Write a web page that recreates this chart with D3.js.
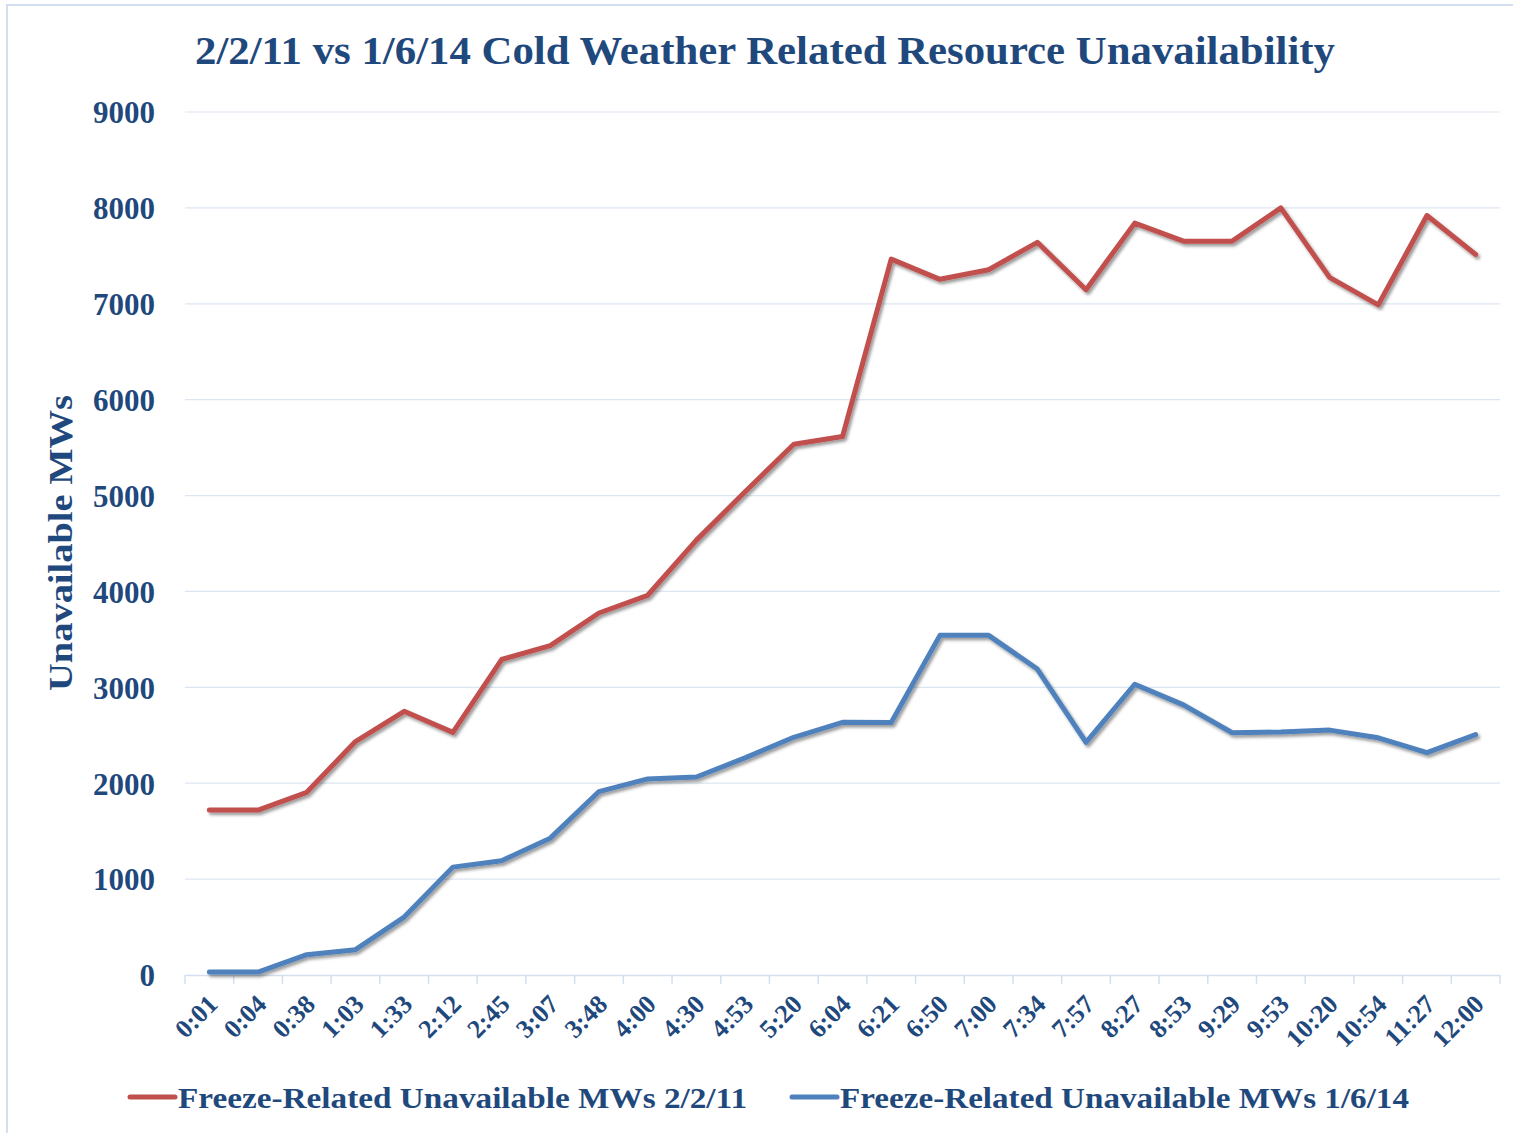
<!DOCTYPE html>
<html>
<head>
<meta charset="utf-8">
<script src="https://cdn.jsdelivr.net/npm/d3@7"></script>
<style>
  html, body { margin: 0; padding: 0; background: #fff; }
  svg { display: block; }
  text { font-family: "Liberation Serif", "Times New Roman", serif; font-weight: bold; fill: #1F497D; }
</style>
</head>
<body>
<svg id="chart" width="1513" height="1133"></svg>
<script>
// categories (time of day)
const times = ["0:01","0:04","0:38","1:03","1:33","2:12","2:45","3:07","3:48","4:00",
  "4:30","4:53","5:20","6:04","6:21","6:50","7:00","7:34","7:57","8:27",
  "8:53","9:29","9:53","10:20","10:54","11:27","12:00"];

// Freeze-Related Unavailable MWs 2/2/11
const mw2011 = [1720,1720,1905,2435,2750,2530,3290,3435,3775,3960,
  4535,5040,5535,5615,7466,7255,7355,7641,7147,7841,
  7653,7653,8000,7275,6988,7920,7514];

// Freeze-Related Unavailable MWs 1/6/14
const mw2014 = [30,30,212,264,604,1125,1191,1427,1913,2045,
  2065,2264,2479,2635,2633,3542,3542,3191,2426,3032,
  2817,2526,2534,2554,2474,2319,2506];

const yTicks = [0,1000,2000,3000,4000,5000,6000,7000,8000,9000];

const series = [
  { name: "Freeze-Related Unavailable MWs 2/2/11", values: mw2011, color: "#C0504D" },
  { name: "Freeze-Related Unavailable MWs 1/6/14", values: mw2014, color: "#4F81BD" }
];

const svg = d3.select("#chart");
const margin = { top: 112, right: 13, bottom: 158, left: 185 };
const W = 1513 - margin.left - margin.right;
const H = 1133 - margin.top - margin.bottom;

// faint chart frame (top + left edge)
svg.append("path")
  .attr("d", "M7,1133 V5 H1513")
  .attr("fill", "none").attr("stroke", "#D3DFEF").attr("stroke-width", 2);

// drop shadow for the lines
const defs = svg.append("defs");
const f = defs.append("filter").attr("id", "shadow")
  .attr("x", "-5%").attr("y", "-5%").attr("width", "110%").attr("height", "110%");
f.append("feDropShadow").attr("dx", 2).attr("dy", 2.5).attr("stdDeviation", 1.8)
  .attr("flood-color", "#000").attr("flood-opacity", 0.4);

const G = svg.append("g").attr("transform", `translate(${margin.left},${margin.top})`);

const x = d3.scaleBand().domain(times).range([0, W]);
const y = d3.scaleLinear().domain([0, 9000]).range([H, 0]);

// title
svg.append("text")
  .attr("x", 765).attr("y", 64)
  .attr("text-anchor", "middle")
  .attr("font-size", 40)
  .attr("textLength", 1140).attr("lengthAdjust", "spacingAndGlyphs")
  .text("2/2/11 vs 1/6/14 Cold Weather Related Resource Unavailability");

// gridlines
G.append("g").selectAll("line")
  .data(yTicks.filter(d => d > 0))
  .join("line")
  .attr("x1", 0).attr("x2", W)
  .attr("y1", d => y(d)).attr("y2", d => y(d))
  .attr("stroke", "#DCE6F2").attr("stroke-width", 1.2);

// y axis labels
const yAxis = G.append("g")
  .call(d3.axisLeft(y).tickValues(yTicks).tickFormat(d3.format("d")).tickSize(0).tickPadding(30));
yAxis.select(".domain").remove();
yAxis.selectAll("text")
  .attr("font-size", 31)
  .attr("dy", "0.35em")
  .attr("fill", "#1F497D");

// x axis
const xAxis = G.append("g").attr("transform", `translate(0,${H})`)
  .call(d3.axisBottom(x).tickSize(0).tickFormat(""));
xAxis.select(".domain").attr("stroke", "#D3DFEF").attr("stroke-width", 1.5);
xAxis.selectAll(".tick").remove();

// tick marks at category boundaries
G.append("g").selectAll("line")
  .data(times.concat(["__end"]))
  .join("line")
  .attr("x1", (d, i) => i * x.step()).attr("x2", (d, i) => i * x.step())
  .attr("y1", H).attr("y2", H + 9)
  .attr("stroke", "#D3DFEF").attr("stroke-width", 1.5);

// rotated x labels
G.append("g").selectAll("text")
  .data(times)
  .join("text")
  .attr("transform", d => `translate(${x(d) + x.bandwidth() / 2 - 3},${H + 18}) rotate(-45)`)
  .attr("text-anchor", "end")
  .attr("dy", "0.7em")
  .attr("font-size", 26)
  .text(d => d);

// y axis title
svg.append("text")
  .attr("transform", "translate(72,543) rotate(-90)")
  .attr("text-anchor", "middle")
  .attr("font-size", 33)
  .attr("textLength", 296).attr("lengthAdjust", "spacingAndGlyphs")
  .text("Unavailable MWs");

// lines
const line = d3.line()
  .x((d, i) => x(times[i]) + x.bandwidth() / 2)
  .y(d => y(d));

G.append("g").selectAll("path")
  .data(series)
  .join("path")
  .attr("fill", "none")
  .attr("stroke", d => d.color)
  .attr("stroke-width", 5)
  .attr("stroke-linejoin", "round")
  .attr("stroke-linecap", "round")
  .attr("filter", "url(#shadow)")
  .attr("d", d => line(d.values));

// legend
const legendPos = [128, 790];
const legend = svg.append("g").selectAll("g")
  .data(series)
  .join("g")
  .attr("transform", (d, i) => `translate(${legendPos[i]},1097)`);
legend.append("line")
  .attr("x1", 2).attr("x2", 47)
  .attr("stroke", d => d.color).attr("stroke-width", 5)
  .attr("stroke-linecap", "round");
legend.append("text")
  .attr("x", 50).attr("y", 0).attr("dy", "0.35em")
  .attr("font-size", 30)
  .attr("textLength", 569).attr("lengthAdjust", "spacingAndGlyphs")
  .text(d => d.name);
</script>
</body>
</html>
